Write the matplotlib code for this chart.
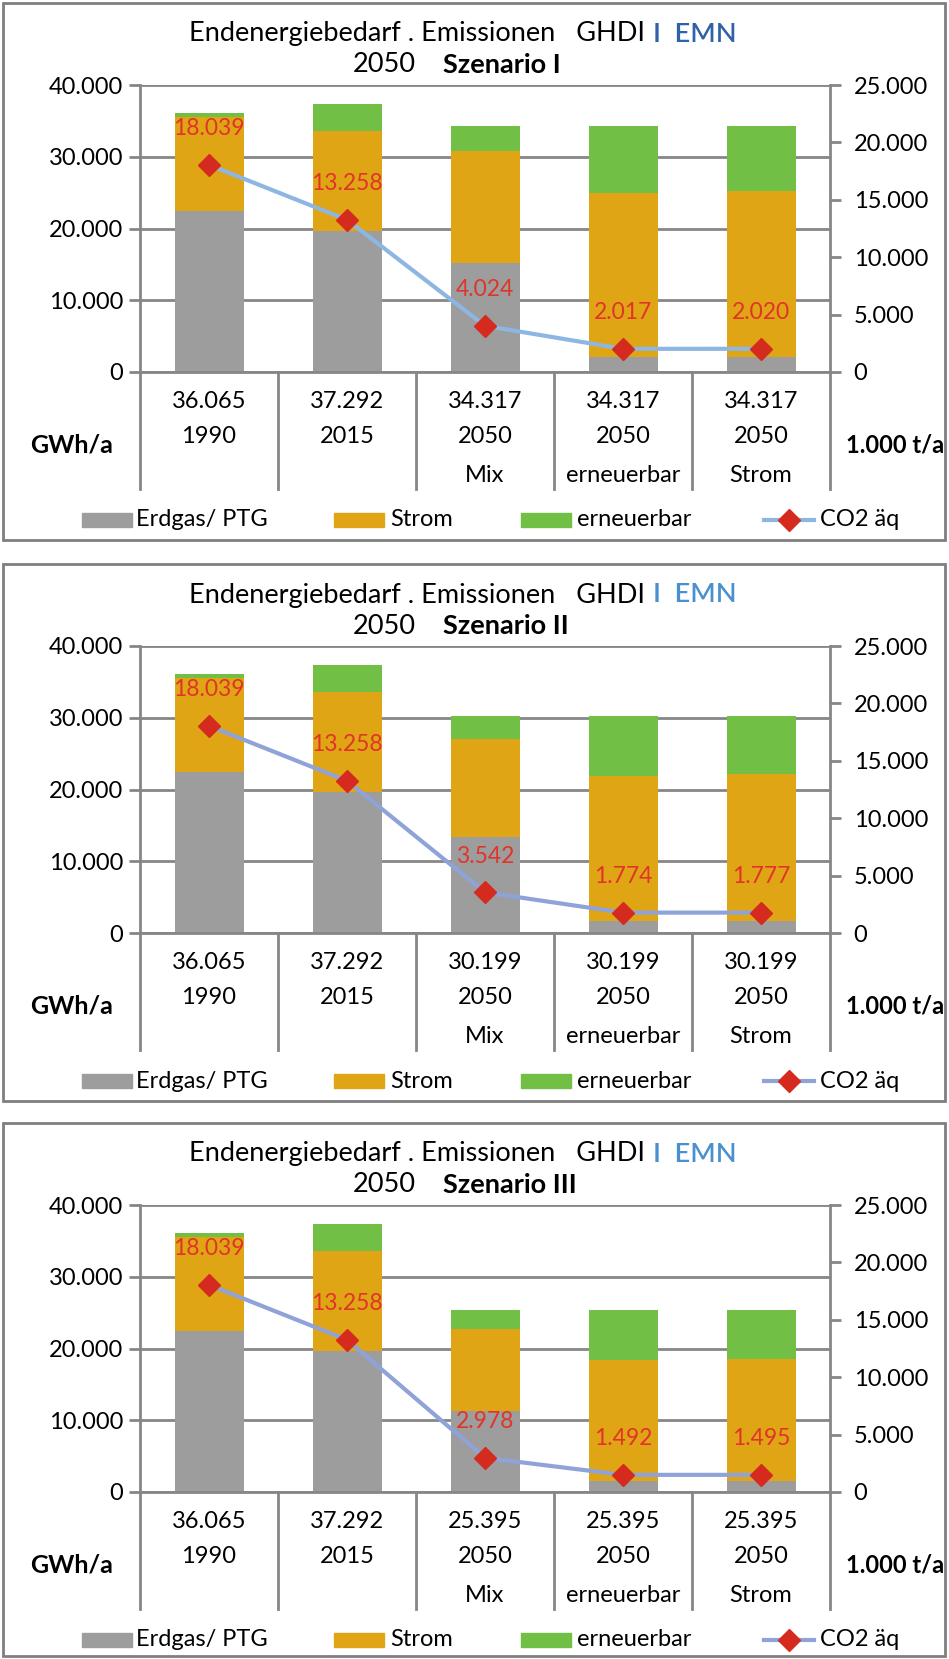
import matplotlib
matplotlib.use("Agg")
import matplotlib.pyplot as plt
from matplotlib.patches import Rectangle
from matplotlib.lines import Line2D
from matplotlib.ticker import FuncFormatter, FixedLocator
import matplotlib.transforms as mtransforms

plt.rcParams["font.family"] = ["Lato", "DejaVu Sans"]

W, H = 949, 1659

years = ["1990", "2015", "2050", "2050", "2050"]
sublabels = ["", "", "Mix", "erneuerbar", "Strom"]
scenarios = ["Szenario I", "Szenario II", "Szenario III"]

totals = [
    [36065, 37292, 34317, 34317, 34317],
    [36065, 37292, 30199, 30199, 30199],
    [36065, 37292, 25395, 25395, 25395],
]
gas = [
    [22490, 19640, 15200, 2090, 2090],
    [22490, 19640, 13350, 1720, 1720],
    [22490, 19640, 11250, 1490, 1490],
]
strom = [
    [13070, 13960, 15540, 22890, 23070],
    [13070, 13960, 13630, 20230, 20420],
    [13070, 13960, 11450, 16880, 17020],
]
erneuerbar = [
    [505, 3692, 3577, 9337, 9157],
    [505, 3692, 3219, 8249, 8059],
    [505, 3692, 2695, 7025, 6885],
]
co2 = [
    [18039, 13258, 4024, 2017, 2020],
    [18039, 13258, 3542, 1774, 1777],
    [18039, 13258, 2978, 1492, 1495],
]

series_names = ["Erdgas/ PTG", "Strom", "erneuerbar", "CO2 äq"]
bar_colors = ["#9d9d9d", "#e0a514", "#71bf45"]
line_colors = ["#8db6e2", "#8fa3d9", "#8fa3d9"]
title_blue = ["#2f62a8", "#4a8fd0", "#4a8fd0"]
marker_red = "#d42b1e"
label_red = "#e0342a"
grid_gray = "#868686"


def de(v):
    return f"{int(v):,}".replace(",", ".")


def fx(px):
    return px / W


def fy(py):
    return 1 - py / H


fig = plt.figure(figsize=(W / 100, H / 100), dpi=100)

offsets = [0, 561, 1120]
for i, off in enumerate(offsets):
    # panel frame
    bottom = min(540 + off, H - 3)
    fig.patches.append(Rectangle((fx(3), fy(bottom)), fx(942), (bottom - 3 - off) / H,
                                 transform=fig.transFigure, fill=False,
                                 edgecolor="#7f7f7f", linewidth=2))

    # title
    fig.text(fx(645), fy(34 + off), "Endenergiebedarf . Emissionen   GHDI",
             ha="right", va="center", fontsize=19.5)
    fig.text(fx(653), fy(34 + off), "I  EMN", ha="left", va="center",
             fontsize=19.5, color=title_blue[i], fontweight="semibold")
    fig.text(fx(416), fy(65 + off), "2050", ha="right", va="center", fontsize=19.5)
    fig.text(fx(443), fy(65 + off), scenarios[i], ha="left", va="center",
             fontsize=19.5, fontweight="bold")

    top, zero = 85 + off, 372 + off
    ax = fig.add_axes([fx(140), fy(zero), fx(690), (zero - top) / H])
    x = list(range(len(years)))
    ax.bar(x, gas[i], width=0.5, color=bar_colors[0], zorder=2)
    base = gas[i]
    ax.bar(x, strom[i], width=0.5, bottom=base, color=bar_colors[1], zorder=2)
    base2 = [a + b for a, b in zip(gas[i], strom[i])]
    ax.bar(x, erneuerbar[i], width=0.5, bottom=base2, color=bar_colors[2], zorder=2)

    ax.set_xlim(-0.5, 4.5)
    ax.set_ylim(0, 40000)
    ax.yaxis.set_major_locator(FixedLocator([0, 10000, 20000, 30000, 40000]))
    ax.yaxis.set_major_formatter(FuncFormatter(lambda v, p: de(v)))
    ax.grid(axis="y", color=grid_gray, linewidth=2, zorder=0)
    ax.set_axisbelow(True)
    ax.set_xticks([])
    for s in ["top", "right"]:
        ax.spines[s].set_visible(False)
    for s in ["left", "bottom"]:
        ax.spines[s].set_color(grid_gray)
        ax.spines[s].set_linewidth(2)
    ax.tick_params(axis="y", direction="out", length=8, width=2, color=grid_gray,
                   labelsize=17, pad=4)

    ax2 = ax.twinx()
    ax2.set_ylim(0, 25000)
    ax2.yaxis.set_major_locator(FixedLocator([0, 5000, 10000, 15000, 20000, 25000]))
    ax2.yaxis.set_major_formatter(FuncFormatter(lambda v, p: de(v)))
    for s in ["top", "left", "bottom"]:
        ax2.spines[s].set_visible(False)
    ax2.spines["right"].set_color(grid_gray)
    ax2.spines["right"].set_linewidth(2)
    ax2.tick_params(axis="y", direction="out", length=8, width=2, color=grid_gray,
                    labelsize=17, pad=9)
    ax2.plot(x, co2[i], color=line_colors[i], linewidth=3, marker="D",
             markersize=11, markerfacecolor=marker_red, markeredgecolor=marker_red,
             zorder=3)
    for xi, v in zip(x, co2[i]):
        ax2.annotate(de(v), (xi, v), xytext=(0, 26), textcoords="offset points",
                     ha="center", va="center", color=label_red, fontsize=16.5)

    # category table below axis
    trans = mtransforms.blended_transform_factory(ax.transData, ax.transAxes)
    for b in [-0.5, 0.5, 1.5, 2.5, 3.5, 4.5]:
        ax.plot([b, b], [0, -0.408], transform=trans, color=grid_gray,
                linewidth=2, clip_on=False)
    for xi in x:
        ax.text(xi, -0.1045, de(totals[i][xi]), transform=trans, ha="center",
                va="center", fontsize=17)
        ax.text(xi, -0.226, years[xi], transform=trans, ha="center", va="center",
                fontsize=17)
        if sublabels[xi]:
            ax.text(xi, -0.359, sublabels[xi], transform=trans, ha="center",
                    va="center", fontsize=17)
    fig.text(fx(72), fy(445 + off), "GWh/a", ha="center", va="center",
             fontsize=18, fontweight="bold")
    fig.text(fx(895), fy(445 + off), "1.000 t/a", ha="center", va="center",
             fontsize=17, fontweight="bold")

    # legend
    ly = 520 + off
    box_x = [82, 334, 521]
    text_x = [136, 390, 577]
    for bx, tx, c, name in zip(box_x, text_x, bar_colors, series_names[:3]):
        fig.patches.append(Rectangle((fx(bx), fy(ly + 7)), fx(50), 14 / H,
                                     transform=fig.transFigure, color=c))
        fig.text(fx(tx), fy(ly), name, ha="left", va="center", fontsize=17)
    fig.lines.append(Line2D([fx(764), fx(814)], [fy(ly), fy(ly)],
                            transform=fig.transFigure, color=line_colors[i],
                            linewidth=3, zorder=3))
    fig.lines.append(Line2D([fx(789)], [fy(ly)], transform=fig.transFigure,
                            marker="D", markersize=11, color=marker_red,
                            linestyle="none", zorder=4))
    fig.text(fx(820), fy(ly), series_names[3], ha="left", va="center", fontsize=17)

fig.savefig("out.png", dpi=100)
